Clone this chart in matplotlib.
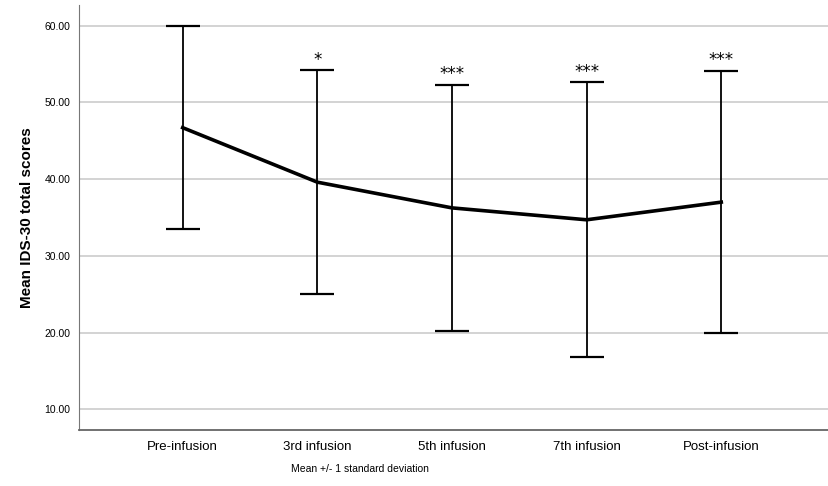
import numpy as np
import matplotlib
matplotlib.use("Agg")
from matplotlib import pyplot as plt

# datos
etapas = ["Pre-infusion", "3rd infusion", "5th infusion", "7th infusion", "Post-infusion"]
media = [46.7, 39.6, 36.25, 34.7, 37.0]
de = [13.2, 14.6, 16.05, 17.9, 17.1]
signif = ["", "*", "***", "***", "***"]
yticks = [10, 20, 30, 40, 50, 60]

plt.rcParams['font.family'] = ['Liberation Sans', 'DejaVu Sans']

fig = plt.figure(figsize=(8.29, 4.86), dpi=100)
ax = fig.add_axes([0.0953, 0.115, 0.9047, 0.875])

x = np.arange(len(etapas))
ax.errorbar(x, media, yerr=de, fmt='none', ecolor='black', elinewidth=1.3,
            capsize=12, capthick=1.6, zorder=3)
ax.plot(x, media, color='black', linewidth=2.6, zorder=4)

for i in range(len(x)):
    if signif[i]:
        ax.text(x[i], media[i] + de[i] + 0.2, signif[i], ha='center', va='bottom',
                fontsize=12, family='DejaVu Sans')

ax.set_xlim(-0.77, 4.8)
ax.set_ylim(7.3, 62.7)
ax.set_yticks(yticks)
ax.set_yticklabels(["%.2f" % v for v in yticks], fontsize=7.5)
ax.set_xticks(x)
ax.set_xticklabels(etapas, fontsize=9.5)
ax.tick_params(axis='x', length=0, pad=8)
ax.tick_params(axis='y', length=0, pad=6)
ax.yaxis.grid(True, color='#cccccc', linewidth=1.2)
ax.set_axisbelow(True)

for s in ['top', 'right']:
    ax.spines[s].set_visible(False)
ax.spines['left'].set_color('#777777')
ax.spines['bottom'].set_color('#666666')
ax.spines['bottom'].set_linewidth(1.3)

ax.set_ylabel("Mean IDS-30 total scores", fontsize=11, fontweight='bold')
ax.yaxis.set_label_coords(-0.06, 0.5)
ax.set_xlabel("Mean +/- 1 standard deviation", fontsize=7.5)
ax.xaxis.set_label_coords(0.375, -0.08)

plt.savefig("out.png", dpi=100)
